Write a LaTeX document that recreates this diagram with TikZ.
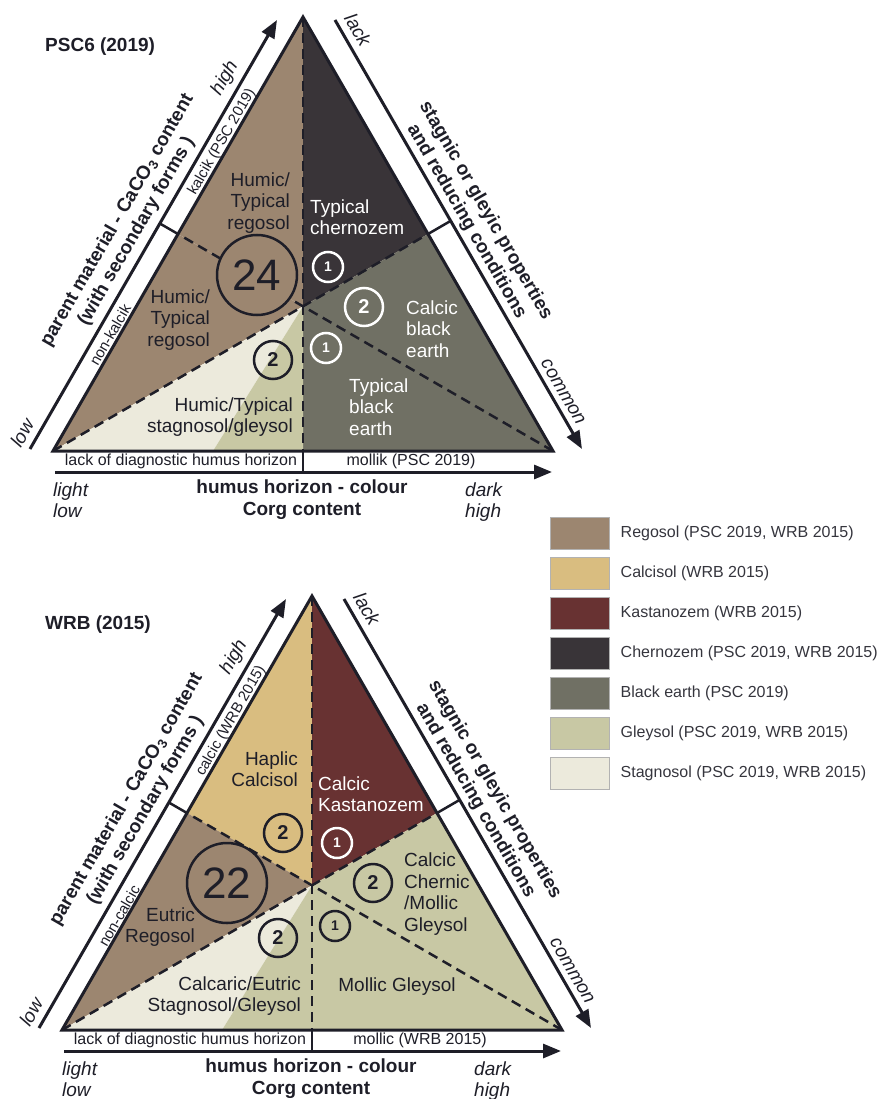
\documentclass[tikz,border=0pt]{standalone}
\usepackage{fontspec}
\setmainfont{Liberation Sans}
\usetikzlibrary{positioning,calc,arrows.meta}

\definecolor{regosol}{HTML}{9C8670}
\definecolor{calcisol}{HTML}{D9BD80}
\definecolor{kastanozem}{HTML}{683232}
\definecolor{chernozem}{HTML}{393438}
\definecolor{blackearth}{HTML}{707064}
\definecolor{gleysol}{HTML}{C8C8A4}
\definecolor{stagnosol}{HTML}{ECEADC}
\definecolor{ink}{HTML}{1E1E28}

\tikzset{
  outline/.style={draw=ink, line width=3pt},
  median/.style={draw=ink, line width=2.5pt, dash pattern=on 10pt off 6pt},
  gaptick/.style={draw=ink, line width=2.5pt},
  axisarrow/.style={draw=ink, line width=3pt, -{Triangle[length=18pt,width=14pt]}},
  axisline/.style={draw=ink, line width=3pt},
  soil/.style={inner sep=0pt, text=ink, font=\fontsize{19}{21.5}\selectfont},
  soilw/.style={soil, text=white},
  bignum/.style={circle, draw=ink, line width=2.5pt, minimum size=80pt, inner sep=0pt,
    text=ink, font=\fontsize{44}{44}\selectfont},
  one/.style={circle, draw=ink, line width=2.5pt, minimum size=30pt, inner sep=0pt,
    text=ink, font=\fontsize{14}{14}\selectfont\bfseries},
  two/.style={circle, draw=ink, line width=2.5pt, minimum size=38pt, inner sep=0pt,
    text=ink, font=\fontsize{20}{20}\selectfont\bfseries},
  onew/.style={one, draw=white, text=white},
  twow/.style={two, draw=white, text=white},
  paneltitle/.style={inner sep=0pt, text=ink, anchor=west, font=\fontsize{19}{22}\selectfont\bfseries},
  sidebold/.style={inner sep=0pt, text=ink, align=center, font=\fontsize{19}{22}\selectfont\bfseries},
  bandtext/.style={inner sep=0pt, text=ink, font=\fontsize{15}{17}\selectfont},
  axistext/.style={inner sep=0pt, text=ink, font=\fontsize{16}{18}\selectfont},
  endlabel/.style={inner sep=0pt, text=ink, font=\fontsize{19}{21.5}\selectfont\itshape},
  keybox/.style={draw=gray!60, line width=1pt, minimum width=59pt, minimum height=32pt, inner sep=0pt},
  keytext/.style={inner sep=0pt, text=ink!90, anchor=west, font=\fontsize{16}{18}\selectfont}
}

\begin{document}
\begin{tikzpicture}[x=1pt, y=-1pt]
  \useasboundingbox (0,0) rectangle (880,1099);

  % Titles
  \node[paneltitle] (psc) at (45,47) {PSC6 (2019)};
  \node[paneltitle] (wrb) at (45,625) {WRB (2015)};

  % ---------------- PSC6 (2019) ----------------
  \begin{scope}
    \coordinate (apex) at (303,17);
    \coordinate (bl) at (53,451);
    \coordinate (br) at (553,451);
    \coordinate (ml) at ($(bl)!0.5!(apex)$);
    \coordinate (mr) at ($(br)!0.5!(apex)$);
    \coordinate (mb) at ($(bl)!0.5!(br)$);
    \coordinate (cen) at ($(apex)!2/3!(mb)$);
    \coordinate (gb) at (213,451);
    \coordinate (mlo) at ($(ml)!-21pt!(cen)$);
    \coordinate (mro) at ($(mr)!-26pt!(cen)$);
    \coordinate (mbo) at (303,472);
    \coordinate (l0) at (30,449);
    \coordinate (l1) at (277,20);
    \coordinate (r0) at (335,20);
    \coordinate (r1) at (582,449);
    \coordinate (b0) at (55,472);
    \coordinate (b1) at (552,472);

    % Regions
    \fill[regosol] (apex) -- (ml) -- (cen) -- cycle;
    \fill[chernozem] (apex) -- (cen) -- (mr) -- cycle;
    \fill[blackearth] (mr) -- (br) -- (mb) -- (cen) -- cycle;
    \fill[regosol] (ml) -- (bl) -- (cen) -- cycle;
    \fill[stagnosol] (bl) -- (gb) -- (cen) -- cycle;
    \fill[gleysol] (gb) -- (mb) -- (cen) -- cycle;

    % Medians and axes
    \draw[median] (apex) -- (mb);
    \draw[median] (bl) -- (mr);
    \draw[median] (br) -- (ml);
    \draw[gaptick] (ml) -- (mlo);
    \draw[gaptick] (mr) -- (mro);
    \draw[gaptick] (mb) -- (mbo);
    \draw[outline] (apex) -- (bl) -- (br) -- cycle;
    \draw[axisarrow] (l0) -- (l1);
    \draw[axisarrow] (r0) -- (r1);
    \draw[axisarrow] (b0) -- (b1);

    % Circles
    \node[bignum, fill=regosol] (n24) at (257,275) {24};
    \node[onew] (pc1a) at (328,267) {1};
    \node[twow] (pc2a) at (364,307) {2};
    \node[onew] (pc1b) at (326,348) {1};
    \node[two] (pc2b) at (273,360) {2};

    % Soil names
    \node[soil, anchor=east, align=right] (humicup) at (290,203) {Humic/\\Typical\\regosol};
    \node[soilw, anchor=west, align=left] (typcher) at (310,217) {Typical\\chernozem};
    \node[soil, anchor=east, align=right] (humiclow) at (210,320) {Humic/\\Typical\\regosol};
    \node[soil, anchor=east, align=right] (humicstag) at (293,417) {Humic/Typical\\stagnosol/gleysol};
    \node[soilw, anchor=west, align=left] (calcbe) at (406,329) {Calcic\\black\\earth};
    \node[soilw, anchor=west, align=left] (typbe) at (349,407) {Typical\\black\\earth};

    % Axis texts
    \node[sidebold, rotate=60] (parentp) at (127,226) {parent material - CaCO\textsubscript{3} content\\(with secondary forms )};
    \node[bandtext, rotate=60] (kalcik) at (222,142) {kalcik (PSC 2019)};
    \node[bandtext, rotate=60] (nonkalcik) at (110,335) {non-kalcik};
    \node[endlabel, rotate=60] (highp) at (225,78) {high};
    \node[endlabel, rotate=60] (lowp) at (22,433) {low};
    \node[endlabel, rotate=-60] (lackp) at (358,30) {lack};
    \node[endlabel, rotate=-60] (commonp) at (563,392) {common};
    \node[sidebold, rotate=-60] (stagnicp) at (476,216) {stagnic or gleyic properties\\and reducing conditions};
    \node[axistext] (nodiagp) at (181,461.5) {lack of diagnostic humus horizon};
    \node[axistext] (mollik) at (411,461.5) {mollik (PSC 2019)};
    \node[endlabel, anchor=west, align=left] (lightp) at (53,500) {light\\low};
    \node[sidebold] (humusp) at (302,500) {humus horizon - colour\\Corg content};
    \node[endlabel, anchor=west, align=left] (darkp) at (465,502) {dark\\high};
  \end{scope}

  % ---------------- WRB (2015) ----------------
  \begin{scope}[shift={(9,579)}]
    \coordinate (apex) at (303,17);
    \coordinate (bl) at (53,451);
    \coordinate (br) at (553,451);
    \coordinate (ml) at ($(bl)!0.5!(apex)$);
    \coordinate (mr) at ($(br)!0.5!(apex)$);
    \coordinate (mb) at ($(bl)!0.5!(br)$);
    \coordinate (cen) at ($(apex)!2/3!(mb)$);
    \coordinate (gb) at (213,451);
    \coordinate (mlo) at ($(ml)!-21pt!(cen)$);
    \coordinate (mro) at ($(mr)!-26pt!(cen)$);
    \coordinate (mbo) at (303,472);
    \coordinate (l0) at (30,449);
    \coordinate (l1) at (277,20);
    \coordinate (r0) at (335,20);
    \coordinate (r1) at (582,449);
    \coordinate (b0) at (55,472);
    \coordinate (b1) at (552,472);

    % Regions
    \fill[calcisol] (apex) -- (ml) -- (cen) -- cycle;
    \fill[kastanozem] (apex) -- (cen) -- (mr) -- cycle;
    \fill[gleysol] (mr) -- (br) -- (mb) -- (cen) -- cycle;
    \fill[regosol] (ml) -- (bl) -- (cen) -- cycle;
    \fill[stagnosol] (bl) -- (gb) -- (cen) -- cycle;
    \fill[gleysol] (gb) -- (mb) -- (cen) -- cycle;

    % Medians and axes
    \draw[median] (apex) -- (mb);
    \draw[median] (bl) -- (mr);
    \draw[median] (br) -- (ml);
    \draw[gaptick] (ml) -- (mlo);
    \draw[gaptick] (mr) -- (mro);
    \draw[gaptick] (mb) -- (mbo);
    \draw[outline] (apex) -- (bl) -- (br) -- cycle;
    \draw[axisarrow] (l0) -- (l1);
    \draw[axisarrow] (r0) -- (r1);
    \draw[axisarrow] (b0) -- (b1);

    % Circles
    \node[bignum] (n22) at (218,304) {22};
    \node[two] (wc2a) at (274,254) {2};
    \node[onew] (wc1a) at (328,264) {1};
    \node[two] (wc2b) at (364,304) {2};
    \node[one] (wc1b) at (326,347) {1};
    \node[two] (wc2c) at (269,359) {2};

    % Soil names
    \node[soil, anchor=east, align=right] (haplic) at (289,190) {Haplic\\Calcisol};
    \node[soilw, anchor=west, align=left] (calckast) at (309,215) {Calcic\\Kastanozem};
    \node[soil, anchor=east, align=right] (eutric) at (186,348) {Eutric\\Regosol};
    \node[soil, anchor=east, align=right] (calcaric) at (292,417) {Calcaric/Eutric\\Stagnosol/Gleysol};
    \node[soil, anchor=west, align=left] (chernic) at (395,315) {Calcic\\Chernic\\/Mollic\\Gleysol};
    \node[soil] (mollgley) at (388,408) {Mollic Gleysol};

    % Axis texts
    \node[sidebold, rotate=60] (parentw) at (127,226) {parent material - CaCO\textsubscript{3} content\\(with secondary forms )};
    \node[bandtext, rotate=60] (calcic) at (222,142) {calcic (WRB 2015)};
    \node[bandtext, rotate=60] (noncalcic) at (110,337) {non-calcic};
    \node[endlabel, rotate=60] (highw) at (225,78) {high};
    \node[endlabel, rotate=60] (loww) at (22,433) {low};
    \node[endlabel, rotate=-60] (lackw) at (358,30) {lack};
    \node[endlabel, rotate=-60] (commonw) at (563,392) {common};
    \node[sidebold, rotate=-60] (stagnicw) at (476,216) {stagnic or gleyic properties\\and reducing conditions};
    \node[axistext] (nodiagw) at (181,461.5) {lack of diagnostic humus horizon};
    \node[axistext] (mollic) at (411,461.5) {mollic (WRB 2015)};
    \node[endlabel, anchor=west, align=left] (lightw) at (53,500) {light\\low};
    \node[sidebold] (humusw) at (302,500) {humus horizon - colour\\Corg content};
    \node[endlabel, anchor=west, align=left] (darkw) at (465,502) {dark\\high};
  \end{scope}

  % Legend
  \foreach \col/\txt [count=\i from 0] in {regosol/{Regosol (PSC 2019, WRB 2015)},
      calcisol/{Calcisol (WRB 2015)}, kastanozem/{Kastanozem (WRB 2015)},
      chernozem/{Chernozem (PSC 2019, WRB 2015)}, blackearth/{Black earth (PSC 2019)},
      gleysol/{Gleysol (PSC 2019, WRB 2015)}, stagnosol/{Stagnosol (PSC 2019, WRB 2015)}}
  {
    \node[keybox, fill=\col] (key\i) at (579.5,533+40*\i) {};
    \node[keytext, right=11pt of key\i] (lab\i) {\txt};
  }
\end{tikzpicture}
\end{document}
